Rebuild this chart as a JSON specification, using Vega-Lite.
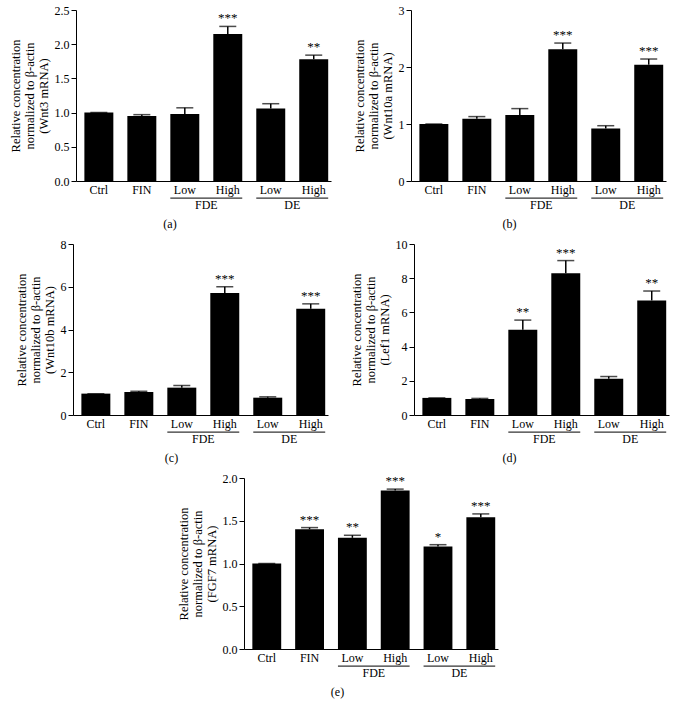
{
  "$schema": "https://vega.github.io/schema/vega-lite/v6.json",
  "padding": {"left": 9, "top": 4, "right": 5, "bottom": 5},
  "background": "#ffffff",
  "config": {
    "view": {"stroke": null},
    "font": "Liberation Serif",
    "text": {"font": "Liberation Serif"},
    "axis": {"labelFont": "Liberation Serif", "titleFont": "Liberation Serif", "labelFontSize": 12, "titleFontSize": 12.5, "titleFontWeight": "normal", "labelColor": "#000", "titleColor": "#000", "domainColor": "#000", "tickColor": "#000", "grid": false},
    "axisX": {"ticks": false, "labelPadding": 3, "labelAngle": 0},
    "axisY": {"tickSize": 5, "labelPadding": 2, "titlePadding": 4, "titleLineHeight": 14},
    "title": {"orient": "bottom", "anchor": "middle", "frame": "bounds", "font": "Liberation Serif", "fontSize": 12, "fontWeight": "normal", "color": "#000", "offset": 8}
  },
  "datasets": {
    "expr": [
      {"gene": "Wnt3", "cat": "Ctrl", "value": 1.0, "upper": 1.0, "sig": ""},
      {"gene": "Wnt3", "cat": "FIN", "value": 0.95, "upper": 0.97, "sig": ""},
      {"gene": "Wnt3", "cat": "FDE Low", "value": 0.98, "upper": 1.07, "sig": ""},
      {"gene": "Wnt3", "cat": "FDE High", "value": 2.15, "upper": 2.26, "sig": "***"},
      {"gene": "Wnt3", "cat": "DE Low", "value": 1.06, "upper": 1.13, "sig": ""},
      {"gene": "Wnt3", "cat": "DE High", "value": 1.78, "upper": 1.84, "sig": "**"},
      {"gene": "Wnt10a", "cat": "Ctrl", "value": 1.0, "upper": 1.0, "sig": ""},
      {"gene": "Wnt10a", "cat": "FIN", "value": 1.09, "upper": 1.13, "sig": ""},
      {"gene": "Wnt10a", "cat": "FDE Low", "value": 1.16, "upper": 1.27, "sig": ""},
      {"gene": "Wnt10a", "cat": "FDE High", "value": 2.31, "upper": 2.42, "sig": "***"},
      {"gene": "Wnt10a", "cat": "DE Low", "value": 0.92, "upper": 0.97, "sig": ""},
      {"gene": "Wnt10a", "cat": "DE High", "value": 2.04, "upper": 2.14, "sig": "***"},
      {"gene": "Wnt10b", "cat": "Ctrl", "value": 1.0, "upper": 1.0, "sig": ""},
      {"gene": "Wnt10b", "cat": "FIN", "value": 1.08, "upper": 1.11, "sig": ""},
      {"gene": "Wnt10b", "cat": "FDE Low", "value": 1.28, "upper": 1.38, "sig": ""},
      {"gene": "Wnt10b", "cat": "FDE High", "value": 5.71, "upper": 6.0, "sig": "***"},
      {"gene": "Wnt10b", "cat": "DE Low", "value": 0.81, "upper": 0.85, "sig": ""},
      {"gene": "Wnt10b", "cat": "DE High", "value": 4.97, "upper": 5.2, "sig": "***"},
      {"gene": "Lef1", "cat": "Ctrl", "value": 1.0, "upper": 1.0, "sig": ""},
      {"gene": "Lef1", "cat": "FIN", "value": 0.93, "upper": 0.97, "sig": ""},
      {"gene": "Lef1", "cat": "FDE Low", "value": 4.98, "upper": 5.55, "sig": "**"},
      {"gene": "Lef1", "cat": "FDE High", "value": 8.29, "upper": 9.03, "sig": "***"},
      {"gene": "Lef1", "cat": "DE Low", "value": 2.12, "upper": 2.25, "sig": ""},
      {"gene": "Lef1", "cat": "DE High", "value": 6.7, "upper": 7.25, "sig": "**"},
      {"gene": "FGF7", "cat": "Ctrl", "value": 1.0, "upper": 1.0, "sig": ""},
      {"gene": "FGF7", "cat": "FIN", "value": 1.4, "upper": 1.42, "sig": "***"},
      {"gene": "FGF7", "cat": "FDE Low", "value": 1.3, "upper": 1.33, "sig": "**"},
      {"gene": "FGF7", "cat": "FDE High", "value": 1.855, "upper": 1.87, "sig": "***"},
      {"gene": "FGF7", "cat": "DE Low", "value": 1.2, "upper": 1.22, "sig": "*"},
      {"gene": "FGF7", "cat": "DE High", "value": 1.54, "upper": 1.58, "sig": "***"}
    ],
    "groups": [
      {"group": "FDE", "start": "FDE Low", "end": "FDE High"},
      {"group": "DE", "start": "DE Low", "end": "DE High"}
    ]
  },
  "vconcat": [
    {
      "hconcat": [
        {
          "width": 255, "height": 171,
          "title": {"text": "(a)"},
          "layer": [
            {
              "data": {"name": "expr"},
              "transform": [{"filter": "datum.gene == 'Wnt3'"}],
              "encoding": {
                "x": {"field": "cat", "type": "nominal", "scale": {"domain": ["Ctrl", "FIN", "FDE Low", "FDE High", "DE Low", "DE High"], "paddingInner": 0.326, "paddingOuter": 0.13, "align": 0.75}, "axis": {"title": null, "labelExpr": "indexof(datum.label, ' ') >= 0 ? substring(datum.label, indexof(datum.label, ' ') + 1) : datum.label"}},
                "y": {"field": "value", "type": "quantitative", "scale": {"domain": [0, 2.5], "nice": false}, "axis": {"title": ["Relative concentration", "normalized to β-actin", "(Wnt3 mRNA)"], "values": [0, 0.5, 1, 1.5, 2, 2.5], "format": ".1f"}}
              },
              "layer": [
                {"mark": {"type": "bar", "color": "#000"}},
                {"mark": {"type": "rule", "color": "#000", "strokeWidth": 1.5}, "encoding": {"y2": {"field": "upper"}}},
                {"mark": {"type": "tick", "color": "#000", "thickness": 1.5, "size": 17}, "encoding": {"y": {"field": "upper", "type": "quantitative", "scale": {"domain": [0, 2.5], "nice": false}, "axis": {"title": ["Relative concentration", "normalized to β-actin", "(Wnt3 mRNA)"], "values": [0, 0.5, 1, 1.5, 2, 2.5], "format": ".1f"}}}},
                {"mark": {"type": "text", "baseline": "bottom", "dy": -1, "fontSize": 13, "color": "#000", "font": "Liberation Serif"}, "encoding": {"y": {"field": "upper", "type": "quantitative", "scale": {"domain": [0, 2.5], "nice": false}, "axis": {"title": ["Relative concentration", "normalized to β-actin", "(Wnt3 mRNA)"], "values": [0, 0.5, 1, 1.5, 2, 2.5], "format": ".1f"}}, "text": {"field": "sig"}}}
              ]
            },
            {
              "data": {"name": "groups"},
              "encoding": {
                "y": {"datum": -0.25, "type": "quantitative", "scale": {"domain": [0, 2.5], "nice": false}, "axis": {"title": ["Relative concentration", "normalized to β-actin", "(Wnt3 mRNA)"], "values": [0, 0.5, 1, 1.5, 2, 2.5], "format": ".1f"}}
              },
              "layer": [
                {"mark": {"type": "rule", "color": "#000", "strokeWidth": 1}, "encoding": {"x": {"field": "start", "type": "nominal", "bandPosition": 0, "scale": {"domain": ["Ctrl", "FIN", "FDE Low", "FDE High", "DE Low", "DE High"], "paddingInner": 0.326, "paddingOuter": 0.13, "align": 0.75}, "axis": {"title": null, "labelExpr": "indexof(datum.label, ' ') >= 0 ? substring(datum.label, indexof(datum.label, ' ') + 1) : datum.label"}}, "x2": {"field": "end", "bandPosition": 1}}},
                {"mark": {"type": "text", "baseline": "top", "dy": 2, "fontSize": 12, "color": "#000", "font": "Liberation Serif"}, "encoding": {"x": {"field": "start", "type": "nominal", "bandPosition": 1.242, "scale": {"domain": ["Ctrl", "FIN", "FDE Low", "FDE High", "DE Low", "DE High"], "paddingInner": 0.326, "paddingOuter": 0.13, "align": 0.75}, "axis": {"title": null, "labelExpr": "indexof(datum.label, ' ') >= 0 ? substring(datum.label, indexof(datum.label, ' ') + 1) : datum.label"}}, "text": {"field": "group"}}}
              ]
            }
          ]
        },
        {
          "width": 255, "height": 171,
          "title": {"text": "(b)"},
          "layer": [
            {
              "data": {"name": "expr"},
              "transform": [{"filter": "datum.gene == 'Wnt10a'"}],
              "encoding": {
                "x": {"field": "cat", "type": "nominal", "scale": {"domain": ["Ctrl", "FIN", "FDE Low", "FDE High", "DE Low", "DE High"], "paddingInner": 0.326, "paddingOuter": 0.13, "align": 0.75}, "axis": {"title": null, "labelExpr": "indexof(datum.label, ' ') >= 0 ? substring(datum.label, indexof(datum.label, ' ') + 1) : datum.label"}},
                "y": {"field": "value", "type": "quantitative", "scale": {"domain": [0, 3], "nice": false}, "axis": {"title": ["Relative concentration", "normalized to β-actin", "(Wnt10a mRNA)"], "values": [0, 1, 2, 3], "format": "d"}}
              },
              "layer": [
                {"mark": {"type": "bar", "color": "#000"}},
                {"mark": {"type": "rule", "color": "#000", "strokeWidth": 1.5}, "encoding": {"y2": {"field": "upper"}}},
                {"mark": {"type": "tick", "color": "#000", "thickness": 1.5, "size": 17}, "encoding": {"y": {"field": "upper", "type": "quantitative", "scale": {"domain": [0, 3], "nice": false}, "axis": {"title": ["Relative concentration", "normalized to β-actin", "(Wnt10a mRNA)"], "values": [0, 1, 2, 3], "format": "d"}}}},
                {"mark": {"type": "text", "baseline": "bottom", "dy": -1, "fontSize": 13, "color": "#000", "font": "Liberation Serif"}, "encoding": {"y": {"field": "upper", "type": "quantitative", "scale": {"domain": [0, 3], "nice": false}, "axis": {"title": ["Relative concentration", "normalized to β-actin", "(Wnt10a mRNA)"], "values": [0, 1, 2, 3], "format": "d"}}, "text": {"field": "sig"}}}
              ]
            },
            {
              "data": {"name": "groups"},
              "encoding": {
                "y": {"datum": -0.3, "type": "quantitative", "scale": {"domain": [0, 3], "nice": false}, "axis": {"title": ["Relative concentration", "normalized to β-actin", "(Wnt10a mRNA)"], "values": [0, 1, 2, 3], "format": "d"}}
              },
              "layer": [
                {"mark": {"type": "rule", "color": "#000", "strokeWidth": 1}, "encoding": {"x": {"field": "start", "type": "nominal", "bandPosition": 0, "scale": {"domain": ["Ctrl", "FIN", "FDE Low", "FDE High", "DE Low", "DE High"], "paddingInner": 0.326, "paddingOuter": 0.13, "align": 0.75}, "axis": {"title": null, "labelExpr": "indexof(datum.label, ' ') >= 0 ? substring(datum.label, indexof(datum.label, ' ') + 1) : datum.label"}}, "x2": {"field": "end", "bandPosition": 1}}},
                {"mark": {"type": "text", "baseline": "top", "dy": 2, "fontSize": 12, "color": "#000", "font": "Liberation Serif"}, "encoding": {"x": {"field": "start", "type": "nominal", "bandPosition": 1.242, "scale": {"domain": ["Ctrl", "FIN", "FDE Low", "FDE High", "DE Low", "DE High"], "paddingInner": 0.326, "paddingOuter": 0.13, "align": 0.75}, "axis": {"title": null, "labelExpr": "indexof(datum.label, ' ') >= 0 ? substring(datum.label, indexof(datum.label, ' ') + 1) : datum.label"}}, "text": {"field": "group"}}}
              ]
            }
          ]
        }
      ],
      "spacing": 22
    },
    {
      "hconcat": [
        {
          "width": 255, "height": 171,
          "title": {"text": "(c)"},
          "layer": [
            {
              "data": {"name": "expr"},
              "transform": [{"filter": "datum.gene == 'Wnt10b'"}],
              "encoding": {
                "x": {"field": "cat", "type": "nominal", "scale": {"domain": ["Ctrl", "FIN", "FDE Low", "FDE High", "DE Low", "DE High"], "paddingInner": 0.326, "paddingOuter": 0.13, "align": 0.75}, "axis": {"title": null, "labelExpr": "indexof(datum.label, ' ') >= 0 ? substring(datum.label, indexof(datum.label, ' ') + 1) : datum.label"}},
                "y": {"field": "value", "type": "quantitative", "scale": {"domain": [0, 8], "nice": false}, "axis": {"title": ["Relative concentration", "normalized to β-actin", "(Wnt10b mRNA)"], "values": [0, 2, 4, 6, 8], "format": "d"}}
              },
              "layer": [
                {"mark": {"type": "bar", "color": "#000"}},
                {"mark": {"type": "rule", "color": "#000", "strokeWidth": 1.5}, "encoding": {"y2": {"field": "upper"}}},
                {"mark": {"type": "tick", "color": "#000", "thickness": 1.5, "size": 17}, "encoding": {"y": {"field": "upper", "type": "quantitative", "scale": {"domain": [0, 8], "nice": false}, "axis": {"title": ["Relative concentration", "normalized to β-actin", "(Wnt10b mRNA)"], "values": [0, 2, 4, 6, 8], "format": "d"}}}},
                {"mark": {"type": "text", "baseline": "bottom", "dy": -1, "fontSize": 13, "color": "#000", "font": "Liberation Serif"}, "encoding": {"y": {"field": "upper", "type": "quantitative", "scale": {"domain": [0, 8], "nice": false}, "axis": {"title": ["Relative concentration", "normalized to β-actin", "(Wnt10b mRNA)"], "values": [0, 2, 4, 6, 8], "format": "d"}}, "text": {"field": "sig"}}}
              ]
            },
            {
              "data": {"name": "groups"},
              "encoding": {
                "y": {"datum": -0.8, "type": "quantitative", "scale": {"domain": [0, 8], "nice": false}, "axis": {"title": ["Relative concentration", "normalized to β-actin", "(Wnt10b mRNA)"], "values": [0, 2, 4, 6, 8], "format": "d"}}
              },
              "layer": [
                {"mark": {"type": "rule", "color": "#000", "strokeWidth": 1}, "encoding": {"x": {"field": "start", "type": "nominal", "bandPosition": 0, "scale": {"domain": ["Ctrl", "FIN", "FDE Low", "FDE High", "DE Low", "DE High"], "paddingInner": 0.326, "paddingOuter": 0.13, "align": 0.75}, "axis": {"title": null, "labelExpr": "indexof(datum.label, ' ') >= 0 ? substring(datum.label, indexof(datum.label, ' ') + 1) : datum.label"}}, "x2": {"field": "end", "bandPosition": 1}}},
                {"mark": {"type": "text", "baseline": "top", "dy": 2, "fontSize": 12, "color": "#000", "font": "Liberation Serif"}, "encoding": {"x": {"field": "start", "type": "nominal", "bandPosition": 1.242, "scale": {"domain": ["Ctrl", "FIN", "FDE Low", "FDE High", "DE Low", "DE High"], "paddingInner": 0.326, "paddingOuter": 0.13, "align": 0.75}, "axis": {"title": null, "labelExpr": "indexof(datum.label, ' ') >= 0 ? substring(datum.label, indexof(datum.label, ' ') + 1) : datum.label"}}, "text": {"field": "group"}}}
              ]
            }
          ]
        },
        {
          "width": 255, "height": 171,
          "title": {"text": "(d)"},
          "layer": [
            {
              "data": {"name": "expr"},
              "transform": [{"filter": "datum.gene == 'Lef1'"}],
              "encoding": {
                "x": {"field": "cat", "type": "nominal", "scale": {"domain": ["Ctrl", "FIN", "FDE Low", "FDE High", "DE Low", "DE High"], "paddingInner": 0.326, "paddingOuter": 0.13, "align": 0.75}, "axis": {"title": null, "labelExpr": "indexof(datum.label, ' ') >= 0 ? substring(datum.label, indexof(datum.label, ' ') + 1) : datum.label"}},
                "y": {"field": "value", "type": "quantitative", "scale": {"domain": [0, 10], "nice": false}, "axis": {"title": ["Relative concentration", "normalized to β-actin", "(Lef1 mRNA)"], "values": [0, 2, 4, 6, 8, 10], "format": "d"}}
              },
              "layer": [
                {"mark": {"type": "bar", "color": "#000"}},
                {"mark": {"type": "rule", "color": "#000", "strokeWidth": 1.5}, "encoding": {"y2": {"field": "upper"}}},
                {"mark": {"type": "tick", "color": "#000", "thickness": 1.5, "size": 17}, "encoding": {"y": {"field": "upper", "type": "quantitative", "scale": {"domain": [0, 10], "nice": false}, "axis": {"title": ["Relative concentration", "normalized to β-actin", "(Lef1 mRNA)"], "values": [0, 2, 4, 6, 8, 10], "format": "d"}}}},
                {"mark": {"type": "text", "baseline": "bottom", "dy": -1, "fontSize": 13, "color": "#000", "font": "Liberation Serif"}, "encoding": {"y": {"field": "upper", "type": "quantitative", "scale": {"domain": [0, 10], "nice": false}, "axis": {"title": ["Relative concentration", "normalized to β-actin", "(Lef1 mRNA)"], "values": [0, 2, 4, 6, 8, 10], "format": "d"}}, "text": {"field": "sig"}}}
              ]
            },
            {
              "data": {"name": "groups"},
              "encoding": {
                "y": {"datum": -1.0, "type": "quantitative", "scale": {"domain": [0, 10], "nice": false}, "axis": {"title": ["Relative concentration", "normalized to β-actin", "(Lef1 mRNA)"], "values": [0, 2, 4, 6, 8, 10], "format": "d"}}
              },
              "layer": [
                {"mark": {"type": "rule", "color": "#000", "strokeWidth": 1}, "encoding": {"x": {"field": "start", "type": "nominal", "bandPosition": 0, "scale": {"domain": ["Ctrl", "FIN", "FDE Low", "FDE High", "DE Low", "DE High"], "paddingInner": 0.326, "paddingOuter": 0.13, "align": 0.75}, "axis": {"title": null, "labelExpr": "indexof(datum.label, ' ') >= 0 ? substring(datum.label, indexof(datum.label, ' ') + 1) : datum.label"}}, "x2": {"field": "end", "bandPosition": 1}}},
                {"mark": {"type": "text", "baseline": "top", "dy": 2, "fontSize": 12, "color": "#000", "font": "Liberation Serif"}, "encoding": {"x": {"field": "start", "type": "nominal", "bandPosition": 1.242, "scale": {"domain": ["Ctrl", "FIN", "FDE Low", "FDE High", "DE Low", "DE High"], "paddingInner": 0.326, "paddingOuter": 0.13, "align": 0.75}, "axis": {"title": null, "labelExpr": "indexof(datum.label, ' ') >= 0 ? substring(datum.label, indexof(datum.label, ' ') + 1) : datum.label"}}, "text": {"field": "group"}}}
              ]
            }
          ]
        }
      ],
      "spacing": 22
    },
    {
      "width": 254, "height": 171,
      "title": {"text": "(e)"},
      "layer": [
        {
          "data": {"name": "expr"},
          "transform": [{"filter": "datum.gene == 'FGF7'"}],
          "encoding": {
            "x": {"field": "cat", "type": "nominal", "scale": {"domain": ["Ctrl", "FIN", "FDE Low", "FDE High", "DE Low", "DE High"], "paddingInner": 0.326, "paddingOuter": 0.13, "align": 0.75}, "axis": {"title": null, "labelExpr": "indexof(datum.label, ' ') >= 0 ? substring(datum.label, indexof(datum.label, ' ') + 1) : datum.label"}},
            "y": {"field": "value", "type": "quantitative", "scale": {"domain": [0, 2], "nice": false}, "axis": {"title": ["Relative concentration", "normalized to β-actin", "(FGF7 mRNA)"], "values": [0, 0.5, 1, 1.5, 2], "format": ".1f"}}
          },
          "layer": [
            {"mark": {"type": "bar", "color": "#000"}},
            {"mark": {"type": "rule", "color": "#000", "strokeWidth": 1.5}, "encoding": {"y2": {"field": "upper"}}},
            {"mark": {"type": "tick", "color": "#000", "thickness": 1.5, "size": 17}, "encoding": {"y": {"field": "upper", "type": "quantitative", "scale": {"domain": [0, 2], "nice": false}, "axis": {"title": ["Relative concentration", "normalized to β-actin", "(FGF7 mRNA)"], "values": [0, 0.5, 1, 1.5, 2], "format": ".1f"}}}},
            {"mark": {"type": "text", "baseline": "bottom", "dy": -1, "fontSize": 13, "color": "#000", "font": "Liberation Serif"}, "encoding": {"y": {"field": "upper", "type": "quantitative", "scale": {"domain": [0, 2], "nice": false}, "axis": {"title": ["Relative concentration", "normalized to β-actin", "(FGF7 mRNA)"], "values": [0, 0.5, 1, 1.5, 2], "format": ".1f"}}, "text": {"field": "sig"}}}
          ]
        },
        {
          "data": {"name": "groups"},
          "encoding": {
            "y": {"datum": -0.2, "type": "quantitative", "scale": {"domain": [0, 2], "nice": false}, "axis": {"title": ["Relative concentration", "normalized to β-actin", "(FGF7 mRNA)"], "values": [0, 0.5, 1, 1.5, 2], "format": ".1f"}}
          },
          "layer": [
            {"mark": {"type": "rule", "color": "#000", "strokeWidth": 1}, "encoding": {"x": {"field": "start", "type": "nominal", "bandPosition": 0, "scale": {"domain": ["Ctrl", "FIN", "FDE Low", "FDE High", "DE Low", "DE High"], "paddingInner": 0.326, "paddingOuter": 0.13, "align": 0.75}, "axis": {"title": null, "labelExpr": "indexof(datum.label, ' ') >= 0 ? substring(datum.label, indexof(datum.label, ' ') + 1) : datum.label"}}, "x2": {"field": "end", "bandPosition": 1}}},
            {"mark": {"type": "text", "baseline": "top", "dy": 2, "fontSize": 12, "color": "#000", "font": "Liberation Serif"}, "encoding": {"x": {"field": "start", "type": "nominal", "bandPosition": 1.242, "scale": {"domain": ["Ctrl", "FIN", "FDE Low", "FDE High", "DE Low", "DE High"], "paddingInner": 0.326, "paddingOuter": 0.13, "align": 0.75}, "axis": {"title": null, "labelExpr": "indexof(datum.label, ' ') >= 0 ? substring(datum.label, indexof(datum.label, ' ') + 1) : datum.label"}}, "text": {"field": "group"}}}
          ]
        }
      ]
    }
  ],
  "spacing": 7,
  "center": true
}
